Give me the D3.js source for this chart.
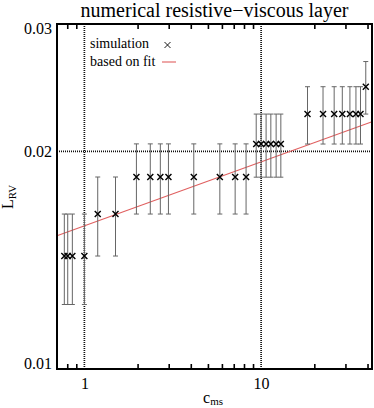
<!DOCTYPE html>
<meta charset="utf-8">
<style>
html, body {
  margin: 0;
  overflow: hidden;
  background: #fff;
}
svg text {
  font-family: "Liberation Serif", "Times New Roman", serif;
  fill: #000;
}
</style>
<title>numerical resistive-viscous layer</title>
<body>
<script src="https://d3js.org/d3.v7.min.js"></script>
<script>
// simulation points: c_ms and L_RV, error is +/- one grid step
var cms = [0.77, 0.805, 0.855, 1.0, 1.19, 1.5, 1.97, 2.36, 2.69, 2.99,
           4.16, 5.84, 7.13, 8.22, 9.38, 10.0, 10.67, 11.35, 12.16, 12.93,
           18.3, 22.4, 25.9, 28.8, 31.8, 34.4, 36.5, 39.1];
var lrv = [0.01433, 0.01433, 0.01433, 0.01433, 0.01638, 0.01638, 0.01843, 0.01843, 0.01843, 0.01843,
           0.01843, 0.01843, 0.01843, 0.01843, 0.02047, 0.02047, 0.02047, 0.02047, 0.02047, 0.02047,
           0.02252, 0.02252, 0.02252, 0.02252, 0.02252, 0.02252, 0.02252, 0.02457];
var lrvErr = [0.00205, 0.00205, 0.00205, 0.00205, 0.00205, 0.00205, 0.00205, 0.00205, 0.00205, 0.00205,
              0.00205, 0.00205, 0.00205, 0.00205, 0.00205, 0.00205, 0.00205, 0.00205, 0.00205, 0.00205,
              0.00205, 0.00205, 0.00205, 0.00205, 0.00205, 0.00205, 0.00205, 0.00205];

// fit: L = fitA * c^fitP
var fitA = 0.01578, fitP = 0.0884;

var xDomain = [0.7, 42.4],
    yDomain = [0.01, 0.03];
var xMinorTicks = [0.8, 0.9, 2, 3, 4, 5, 6, 7, 8, 9, 20, 30, 40];
var xLabelTicks = [1, 10];
var yLabelTicks = [0.01, 0.02, 0.03];
var refX = [1, 10], refY = [0.02];

var width = 374, height = 408;
var plotL = 57, plotR = 372, plotT = 24, plotB = 369;

var svg = d3.select("body").append("svg")
    .attr("width", width)
    .attr("height", height);

var x = d3.scaleLog().domain(xDomain).range([plotL, plotR]);
var y = d3.scaleLog().domain(yDomain).range([plotB, plotT]);

// title
svg.append("text")
    .attr("x", (plotL + plotR) / 2)
    .attr("y", 17)
    .attr("text-anchor", "middle")
    .style("font-size", "20px")
    .text("numerical resistive\u2212viscous layer");

// dotted reference lines
svg.selectAll(".vref").data(refX).enter().append("line")
    .attr("x1", function(d) { return x(d); })
    .attr("x2", function(d) { return x(d); })
    .attr("y1", plotT).attr("y2", plotB)
    .attr("stroke", "#111").attr("stroke-width", 1.7)
    .attr("stroke-dasharray", "1,1");
svg.selectAll(".href").data(refY).enter().append("line")
    .attr("y1", function(d) { return y(d); })
    .attr("y2", function(d) { return y(d); })
    .attr("x1", plotL).attr("x2", plotR)
    .attr("stroke", "#111").attr("stroke-width", 1.7)
    .attr("stroke-dasharray", "1,1");

// fit line
var fitLine = d3.line()
    .x(function(d) { return x(d); })
    .y(function(d) { return y(fitA * Math.pow(d, fitP)); });
svg.append("path")
    .datum(xDomain)
    .attr("d", fitLine)
    .attr("fill", "none")
    .attr("stroke", "#e06060")
    .attr("stroke-width", 1.1);

// error bars
var pts = cms.map(function(c, i) { return {c: c, l: lrv[i], e: lrvErr[i]}; });
var eb = svg.append("g").attr("stroke", "#666").attr("stroke-width", 1);
pts.forEach(function(p) {
  var px = x(p.c), y0 = y(p.l - p.e), y1 = y(p.l + p.e);
  eb.append("line").attr("x1", px).attr("x2", px).attr("y1", y0).attr("y2", y1);
  eb.append("line").attr("x1", px - 2.5).attr("x2", px + 2.5).attr("y1", y0).attr("y2", y0);
  eb.append("line").attr("x1", px - 2.5).attr("x2", px + 2.5).attr("y1", y1).attr("y2", y1);
});

// markers
function cross(cx, cy, s) {
  return "M" + (cx - s) + "," + (cy - s) + "L" + (cx + s) + "," + (cy + s) +
         "M" + (cx - s) + "," + (cy + s) + "L" + (cx + s) + "," + (cy - s);
}
svg.append("g").selectAll("path").data(pts).enter().append("path")
    .attr("d", function(d) { return cross(x(d.c), y(d.l), 3); })
    .attr("stroke", "#000").attr("stroke-width", 1.4).attr("fill", "none");

// ticks (inward, top and bottom)
svg.append("g")
    .attr("transform", "translate(0," + plotB + ")")
    .call(d3.axisBottom(x).tickValues(xMinorTicks).tickSize(-5).tickFormat(""))
    .call(function(g) { g.select(".domain").remove(); })
    .selectAll("line").attr("stroke-width", 1.6);
svg.append("g")
    .attr("transform", "translate(0," + plotT + ")")
    .call(d3.axisTop(x).tickValues(xMinorTicks).tickSize(-5).tickFormat(""))
    .call(function(g) { g.select(".domain").remove(); })
    .selectAll("line").attr("stroke-width", 1.6);

// x labels
var xl = svg.append("g")
    .attr("transform", "translate(0," + plotB + ")")
    .call(d3.axisBottom(x).tickValues(xLabelTicks).tickSize(0).tickPadding(0)
      .tickFormat(d3.format("d")));
xl.select(".domain").remove();
xl.selectAll("text")
    .attr("dy", null).attr("y", 20)
    .style("font-family", "Liberation Serif, serif")
    .style("font-size", "16px");

// y labels, kept inside the frame height
var yl = svg.append("g")
    .attr("transform", "translate(" + plotL + ",0)")
    .call(d3.axisLeft(y).tickValues(yLabelTicks).tickSize(0).tickPadding(5)
      .tickFormat(d3.format(".2f")));
yl.select(".domain").remove();
yl.selectAll(".tick").attr("transform", function(d) {
  var b = Math.max(plotT + 9.5, Math.min(plotB, y(d) + 5.5));
  return "translate(0," + b + ")";
});
yl.selectAll("text")
    .attr("dy", null).attr("y", 0)
    .style("font-family", "Liberation Serif, serif")
    .style("font-size", "16px");

// frame
svg.append("rect")
    .attr("x", plotL).attr("y", plotT)
    .attr("width", plotR - plotL).attr("height", plotB - plotT)
    .attr("fill", "none").attr("stroke", "#000").attr("stroke-width", 2);

// axis titles
var xt = svg.append("text")
    .attr("x", 213).attr("y", 403)
    .attr("text-anchor", "middle")
    .style("font-size", "16px");
xt.append("tspan").text("c");
xt.append("tspan").attr("dy", 2).style("font-size", "11px").text("ms");

var yt = svg.append("text")
    .attr("transform", "translate(13,197) rotate(-90)")
    .attr("text-anchor", "middle")
    .style("font-size", "16px");
yt.append("tspan").text("L");
yt.append("tspan").attr("dy", 3).style("font-size", "11px").text("RV");

// legend
var lg = svg.append("g");
lg.append("text").attr("x", 90).attr("y", 48).style("font-size", "14px").text("simulation");
lg.append("path").attr("d", cross(167.5, 45, 3))
    .attr("stroke", "#000").attr("stroke-width", 0.9).attr("fill", "none");
lg.append("text").attr("x", 90).attr("y", 66).style("font-size", "14px").text("based on fit");
lg.append("line").attr("x1", 162).attr("x2", 176).attr("y1", 62).attr("y2", 62)
    .attr("stroke", "#e06060").attr("stroke-width", 1.1);
</script>
</body>
